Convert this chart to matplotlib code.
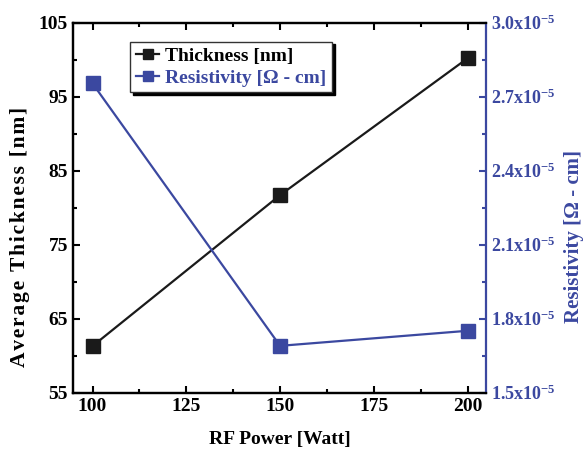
import numpy as np
import matplotlib
matplotlib.use('Agg')
import matplotlib.pyplot as plt
from matplotlib.ticker import MultipleLocator, FixedLocator, FuncFormatter

plt.rcParams['font.family'] = ['Liberation Serif', 'DejaVu Serif']
plt.rcParams['font.weight'] = 'bold'
plt.rcParams['mathtext.fontset'] = 'custom'
plt.rcParams['mathtext.rm'] = 'Liberation Serif:bold'
plt.rcParams['mathtext.bf'] = 'Liberation Serif:bold'
plt.rcParams['mathtext.default'] = 'bf'

# data
power = [100, 150, 200]
thickness = [61.3, 81.7, 100.2]
resistivity = [2.754e-5, 1.69e-5, 1.751e-5]

left_ticks = [55, 65, 75, 85, 95, 105]

blue = '#3B48A0'

fig = plt.figure(figsize=(5.85, 4.57), dpi=100)
ax = fig.add_axes([0.1248, 0.1407, 0.706, 0.8096])
ax2 = ax.twinx()

l1, = ax.plot(power, thickness, color='#1a1a1a', lw=1.6, marker='s', ms=9.5,
              markerfacecolor='#1a1a1a', markeredgecolor='#1a1a1a', label='Thickness [nm]')
l2, = ax2.plot(power, resistivity, color=blue, lw=1.6, marker='s', ms=9.5,
               markerfacecolor=blue, markeredgecolor=blue, label='Resistivity [Ω - cm]')

ax.set_xlim(94.8, 204.9)
ax.set_ylim(55, 105)
ax2.set_ylim(1.5e-5, 3.0e-5)

ax.xaxis.set_major_locator(MultipleLocator(25))
ax.xaxis.set_minor_locator(MultipleLocator(12.5))
ax.yaxis.set_major_locator(FixedLocator(left_ticks))
ax.yaxis.set_minor_locator(FixedLocator([t + 5 for t in left_ticks[:-1]]))
ax2.yaxis.set_major_locator(MultipleLocator(0.3e-5))
ax2.yaxis.set_minor_locator(MultipleLocator(0.15e-5))
ax2.yaxis.set_major_formatter(FuncFormatter(lambda v, p: '%.1fx10$^{-5}$' % (v * 1e5)))

ax.tick_params(axis='both', which='both', direction='in', width=1.5, labelsize=14, top=True)
ax.tick_params(axis='both', which='major', length=5)
ax.tick_params(axis='both', which='minor', length=3)
ax2.tick_params(axis='y', which='both', direction='in', width=1.5, colors=blue, labelsize=13)
ax2.tick_params(axis='y', which='major', length=5)
ax2.tick_params(axis='y', which='minor', length=3)

for s in ['left', 'bottom', 'top']:
    ax.spines[s].set_linewidth(1.6)
    ax2.spines[s].set_linewidth(1.6)
ax2.spines['right'].set_linewidth(1.6)
ax2.spines['right'].set_color(blue)
ax.spines['right'].set_visible(False)

ax.set_xlabel('RF Power [Watt]', fontsize=14, fontweight='bold', labelpad=12)
spaced = '\u200a'.join('Average Thickness [nm]')
ax.set_ylabel(spaced, fontsize=15.5, fontweight='bold')
ax.yaxis.set_label_coords(-0.105, 0.42)
ax2.set_ylabel('Resistivity [Ω - cm]', fontsize=15, fontweight='bold', color=blue)
ax2.yaxis.set_label_coords(1.19, 0.423)

leg = ax2.legend(handles=[l1, l2], loc='upper left', bbox_to_anchor=(0.115, 0.975),
                 fontsize=14, handlelength=1.2, handletextpad=0.3, markerscale=0.7,
                 fancybox=False, edgecolor='#333333', framealpha=1, borderpad=0.3,
                 labelspacing=0.2, shadow={'color': 'black', 'alpha': 1})
leg.get_frame().set_linewidth(1.0)
leg.get_texts()[1].set_color(blue)

fig.savefig('out.png', dpi=100)
